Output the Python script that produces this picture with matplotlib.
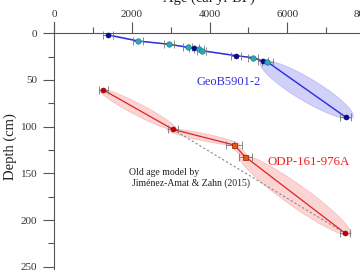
import numpy as np
import matplotlib
matplotlib.use("Agg")
import matplotlib.pyplot as plt

plt.rcParams['font.family'] = ['Liberation Serif', 'DejaVu Serif']

# GeoB5901-2 (age cal yr BP, depth cm)
geob_age = [1398, 2154, 2968, 3441, 3604, 3732, 3802, 4685, 5115, 5372, 5490, 7508]
geob_depth = [1.8, 8.2, 11.8, 15.0, 16.1, 17.1, 18.6, 24.0, 26.1, 29.7, 30.7, 89.9]
geob_kind = ["d", "c", "c", "c", "d", "c", "c", "d", "c", "d", "c", "d"]
geob_err = [130, 130, 130, 120, 120, 120, 120, 130, 130, 130, 130, 140]
# max age half-width of the envelope between consecutive points
geob_env = [90, 90, 70, 50, 40, 30, 90, 70, 60, 30, 540]

# ODP-161-976A
odp_age = [1270, 3055, 4633, 4916, 7490]
odp_depth = [60.7, 102.8, 119.6, 132.1, 214.1]
odp_kind = ["d", "d", "s", "s", "d"]
odp_err = [120, 130, 200, 170, 130]
odp_env = [320, 420, 100, 470]

# old age model (Jimenez-Amat & Zahn 2015)
old_age = [3055, 7490]
old_depth = [102.8, 214.1]

COLOR_BLUE = "#2a2ae0"
COLOR_BLUE_ENV = "#9090f0"
COLOR_RED = "#e52020"
COLOR_RED_ENV = "#f79a9a"


def lens(ax, x1, y1, x2, y2, w, face, edge):
    # sheared ellipse between two points, horizontal half width w
    t = np.linspace(0, 2 * np.pi, 120)
    k = 1.06
    cx, cy = (x1 + x2) / 2, (y1 + y2) / 2
    ax_, ay_ = (x2 - x1) / 2 * k, (y2 - y1) / 2 * k
    xs = cx + ax_ * np.cos(t) + w * np.sin(t)
    ys = cy + ay_ * np.cos(t)
    ax.fill(xs, ys, facecolor=face, edgecolor=edge, alpha=0.42, lw=0.5, zorder=1)


fig = plt.figure(figsize=(3.6, 2.73), dpi=100)
ax = fig.add_axes([0.15, 0.0158, 0.864, 0.9033])

for i in range(len(geob_env)):
    lens(ax, geob_age[i], geob_depth[i], geob_age[i + 1], geob_depth[i + 1],
         geob_env[i], COLOR_BLUE_ENV, "#8080e8")
for i in range(len(odp_env)):
    lens(ax, odp_age[i], odp_depth[i], odp_age[i + 1], odp_depth[i + 1],
         odp_env[i], COLOR_RED_ENV, "#f08080")

ax.plot(old_age, old_depth, color="#888888", lw=0.8, dashes=(2, 2), zorder=2)
ax.plot(geob_age, geob_depth, color=COLOR_BLUE, lw=1.0, zorder=3)
ax.plot(odp_age, odp_depth, color=COLOR_RED, lw=0.9, zorder=3)

ax.errorbar(geob_age, geob_depth, xerr=geob_err, fmt="none", ecolor="#777777",
            elinewidth=0.6, capsize=3, capthick=0.6, zorder=4)
ax.errorbar(odp_age, odp_depth, xerr=odp_err, fmt="none", ecolor="#777777",
            elinewidth=0.6, capsize=3, capthick=0.6, zorder=4)
ax.errorbar([odp_age[2]], [odp_depth[2]], yerr=[4], fmt="none", ecolor="#777777",
            elinewidth=0.6, zorder=4)

for a, d, k in zip(geob_age, geob_depth, geob_kind):
    if k == "d":
        ax.plot(a, d, "o", ms=3.6, color="#0a0a9a", mec="#00006a", mew=0.4, zorder=5)
    else:
        ax.plot(a, d, "o", ms=4.0, color="#2aa8b8", mec="#1a7888", mew=0.4, zorder=5)
for a, d, k in zip(odp_age, odp_depth, odp_kind):
    if k == "d":
        ax.plot(a, d, "o", ms=3.6, color="#c00000", mec="#900000", mew=0.4, zorder=5)
    else:
        ax.plot(a, d, "s", ms=3.6, color="#e05a1a", mec="#902000", mew=0.5, zorder=5)

ax.text(4480, 52, "GeoB5901-2", color="#3232dc", fontsize=9, ha="center", va="center")
ax.text(6540, 138, "ODP-161-976A", color="#ee2424", fontsize=9.3, ha="center", va="center")
ax.text(1940, 148.5, "Old age model by", color="#222222", fontsize=7, ha="left", va="center")
ax.text(2000, 160, "Jiménez-Amat & Zahn (2015)", color="#222222", fontsize=7,
        ha="left", va="center")

ax.set_xlim(0, 8000)
ax.set_ylim(252, -12)
for s in ["right", "bottom"]:
    ax.spines[s].set_visible(False)
ax.spines["top"].set_position(("data", 0))
for s in ["top", "left"]:
    ax.spines[s].set_color("#555555")
    ax.spines[s].set_linewidth(0.8)
ax.xaxis.set_ticks_position("top")
ax.set_xticks([0, 2000, 4000, 6000, 8000])
ax.set_xticks([1000, 3000, 5000, 7000], minor=True)
ax.set_yticks([0, 50, 100, 150, 200, 250])
ax.set_yticks([25, 75, 125, 175, 225], minor=True)
ax.tick_params(which="major", length=8, width=0.8, color="#555555",
               labelsize=8, labelcolor="#333333")
ax.tick_params(which="minor", length=4.3, width=0.8, color="#555555")
ax.tick_params(axis="x", pad=2)
ax.tick_params(axis="y", pad=4)

fig.text(209 / 360, 1 - 2 / 273, "Age (cal yr BP)", fontsize=10.5, ha="center",
         va="baseline", color="#222222")
fig.text(10.7 / 360, 1 - 146.5 / 273, "Depth (cm)", fontsize=10.5, ha="center",
         va="center", rotation=90, color="#222222")

fig.savefig("out.png", dpi=100)
